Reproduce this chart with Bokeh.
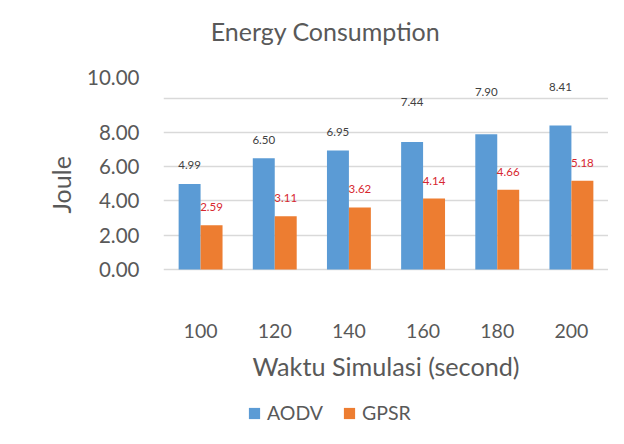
from bokeh.plotting import figure
from bokeh.models import (Range1d, FixedTicker, NumeralTickFormatter, ColumnDataSource,
                          LabelSet, Label, Legend, LegendItem, Title)
from bokeh.embed import file_html
from bokeh.resources import INLINE
from bokeh.core.properties import value

# ---- data ----
categories = ["100", "120", "140", "160", "180", "200"]
aodv = [4.99, 6.50, 6.95, 7.44, 7.90, 8.41]
gpsr = [2.59, 3.11, 3.62, 4.14, 4.66, 5.18]
y_ticks = [0, 2, 4, 6, 8]
grid_ticks = [0, 2, 4, 6, 8, 10]
top_tick_label = "10.00"

# ---- style / layout ----
FONT = "Lato"
TXT = "#595959"
BLUE = "#5B9BD5"
ORANGE = "#ED7D31"
RED = "#D7282F"
W, H = 608, 428
LEFT = 163                 # plot-area left edge (px)
ZERO_PX = 269              # pixel row of the 0 gridline
PPU = 17.13                # pixels per Joule
aodv_label_lift = [19, 18, 18, 40, 42, 38]   # px above bar top, as in the reference
gpsr_label_lift = [18, 18, 18, 18, 18, 18]
bar_w = 0.296
top_label_pos = 11.2       # the reference prints "10.00" well above its gridline

centers = list(range(1, len(categories) + 1))
x_aodv = [c - bar_w / 2 for c in centers]
x_gpsr = [c + bar_w / 2 for c in centers]

src_a = ColumnDataSource(dict(x=x_aodv, top=aodv, lift=aodv_label_lift,
                              txt=[f"{v:.2f}" for v in aodv]))
src_g = ColumnDataSource(dict(x=x_gpsr, top=gpsr, lift=gpsr_label_lift,
                              txt=[f"{v:.2f}" for v in gpsr]))
src_c = ColumnDataSource(dict(x=centers, y=[0] * len(centers), txt=categories))

p = figure(width=W, height=H, output_backend="svg", toolbar_location=None,
           x_range=Range1d(0.5, len(categories) + 0.5),
           y_range=Range1d(-(H - ZERO_PX) / PPU, ZERO_PX / PPU),
           min_border_left=LEFT, min_border_right=0, min_border_top=0, min_border_bottom=0)
p.outline_line_color = None
p.background_fill_color = "white"
p.border_fill_color = "white"

r1 = p.vbar(x="x", top="top", width=bar_w, source=src_a, fill_color=BLUE, line_color=None)
r2 = p.vbar(x="x", top="top", width=bar_w, source=src_g, fill_color=ORANGE, line_color=None)

# grid
p.xgrid.visible = False
p.ygrid.ticker = FixedTicker(ticks=grid_ticks)
p.ygrid.grid_line_color = "#d9d9d9"
p.ygrid.grid_line_width = 1.5

# category axis drawn as labels below the zero line
p.xaxis.visible = False
p.add_layout(LabelSet(x="x", y="y", y_offset=-61, text="txt", source=src_c,
                      text_align="center", text_baseline="middle",
                      text_font=value(FONT), text_font_size="19.5px", text_color=TXT))
p.add_layout(Label(x=(len(categories) + 1) / 2, y=0, y_offset=-96,
                   text="Waktu Simulasi (second)", text_align="center", text_baseline="middle",
                   text_font=FONT, text_font_size="25.2px", text_color=TXT))

# title
p.add_layout(Label(x=0.5, y=0, x_offset=325 - LEFT, y_offset=ZERO_PX - 30,
                   text="Energy Consumption", text_align="center", text_baseline="middle",
                   text_font=FONT, text_font_size="25px", text_color=TXT))

# y axis (tick labels)
yax = p.yaxis[0]
yax.ticker = FixedTicker(ticks=y_ticks + [top_label_pos])
yax.formatter = NumeralTickFormatter(format="0.00")
yax.major_label_overrides = {top_label_pos: top_tick_label}
yax.axis_line_color = None
yax.major_tick_line_color = None
yax.minor_tick_line_color = None
yax.major_tick_out = 0
yax.major_label_standoff = 24
yax.major_label_text_font = FONT
yax.major_label_text_font_size = "20.5px"
yax.major_label_text_color = TXT

# y-axis title as a side title, placed over the 0..10 span like the reference
p.add_layout(Title(text="Joule", align="left", offset=H - 213, standoff=18,
                   text_font=FONT, text_font_size="25px", text_font_style="normal",
                   text_color=TXT), "left")

# data labels
p.add_layout(LabelSet(x="x", y="top", y_offset="lift", text="txt", source=src_a,
                      text_align="center", text_baseline="middle",
                      text_font=value(FONT), text_font_size="11.5px", text_color="#404040"))
p.add_layout(LabelSet(x="x", y="top", y_offset="lift", text="txt", source=src_g,
                      text_align="center", text_baseline="middle",
                      text_font=value(FONT), text_font_size="11.5px", text_color=RED))

# legend
legend = Legend(items=[LegendItem(label="AODV", renderers=[r1]),
                       LegendItem(label="GPSR", renderers=[r2])],
                orientation="horizontal", location=(84, 4),
                glyph_width=14, glyph_height=14, label_standoff=6, spacing=19,
                padding=0, margin=0, border_line_color=None, background_fill_alpha=0,
                label_text_font=FONT, label_text_font_size="19.5px",
                label_text_color=TXT)
p.add_layout(legend, "center")

open("out.html", "w").write(file_html(p, INLINE))
